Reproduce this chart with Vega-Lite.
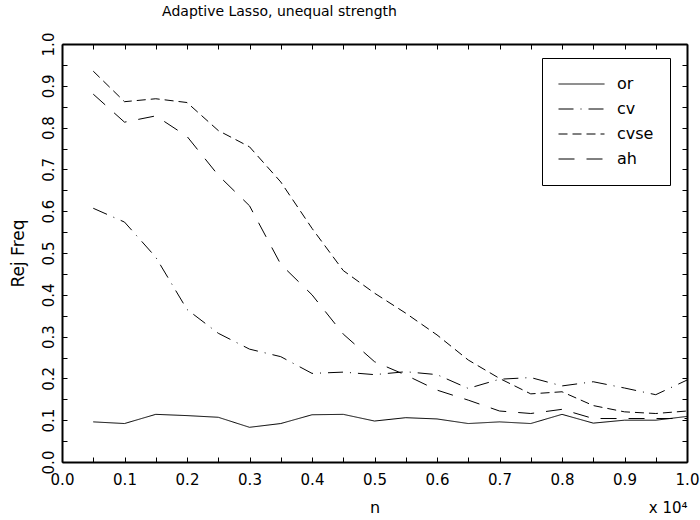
{
  "$schema": "https://vega.github.io/schema/vega-lite/v6.json",
  "width": 625,
  "height": 418,
  "autosize": {"type": "none"},
  "padding": {"left": 62, "top": 44, "right": 13, "bottom": 58},
  "background": "white",
  "title": {"text": "Adaptive Lasso, unequal strength", "fontSize": 14, "fontWeight": "normal", "font": "DejaVu Sans", "color": "black", "anchor": "middle", "frame": "group", "dx": -95, "offset": -1, "baseline": "bottom"},
  "config": {
    "view": {"stroke": null},
    "font": "DejaVu Sans",
    "legend": {
      "orient": "none", "legendX": 480, "legendY": 14,
      "strokeColor": "black", "strokeWidth": 1, "padding": 16, "fillColor": "white",
      "symbolType": "stroke", "symbolSize": 2116, "symbolStrokeWidth": 1, "symbolStrokeColor": "black",
      "clipHeight": 20,
      "labelFont": "DejaVu Sans", "labelFontSize": 16, "labelColor": "black", "labelOffset": 12, "rowPadding": 5
    }
  },
  "data": {"values": [
    {"n":0.05,"series":"or","value":0.096},{"n":0.10,"series":"or","value":0.092},{"n":0.15,"series":"or","value":0.114},{"n":0.20,"series":"or","value":0.111},{"n":0.25,"series":"or","value":0.107},{"n":0.30,"series":"or","value":0.083},{"n":0.35,"series":"or","value":0.092},{"n":0.40,"series":"or","value":0.113},{"n":0.45,"series":"or","value":0.114},{"n":0.50,"series":"or","value":0.098},{"n":0.55,"series":"or","value":0.106},{"n":0.60,"series":"or","value":0.103},{"n":0.65,"series":"or","value":0.092},{"n":0.70,"series":"or","value":0.096},{"n":0.75,"series":"or","value":0.092},{"n":0.80,"series":"or","value":0.114},{"n":0.85,"series":"or","value":0.093},{"n":0.90,"series":"or","value":0.100},{"n":0.95,"series":"or","value":0.100},{"n":1.00,"series":"or","value":0.109},
    {"n":0.05,"series":"cv","value":0.607},{"n":0.10,"series":"cv","value":0.574},{"n":0.15,"series":"cv","value":0.490},{"n":0.20,"series":"cv","value":0.365},{"n":0.25,"series":"cv","value":0.308},{"n":0.30,"series":"cv","value":0.270},{"n":0.35,"series":"cv","value":0.252},{"n":0.40,"series":"cv","value":0.212},{"n":0.45,"series":"cv","value":0.215},{"n":0.50,"series":"cv","value":0.209},{"n":0.55,"series":"cv","value":0.216},{"n":0.60,"series":"cv","value":0.209},{"n":0.65,"series":"cv","value":0.176},{"n":0.70,"series":"cv","value":0.198},{"n":0.75,"series":"cv","value":0.202},{"n":0.80,"series":"cv","value":0.182},{"n":0.85,"series":"cv","value":0.192},{"n":0.90,"series":"cv","value":0.177},{"n":0.95,"series":"cv","value":0.161},{"n":1.00,"series":"cv","value":0.196},
    {"n":0.05,"series":"cvse","value":0.935},{"n":0.10,"series":"cvse","value":0.862},{"n":0.15,"series":"cvse","value":0.869},{"n":0.20,"series":"cvse","value":0.860},{"n":0.25,"series":"cvse","value":0.793},{"n":0.30,"series":"cvse","value":0.754},{"n":0.35,"series":"cvse","value":0.670},{"n":0.40,"series":"cvse","value":0.559},{"n":0.45,"series":"cvse","value":0.458},{"n":0.50,"series":"cvse","value":0.404},{"n":0.55,"series":"cvse","value":0.356},{"n":0.60,"series":"cvse","value":0.304},{"n":0.65,"series":"cvse","value":0.244},{"n":0.70,"series":"cvse","value":0.200},{"n":0.75,"series":"cvse","value":0.163},{"n":0.80,"series":"cvse","value":0.168},{"n":0.85,"series":"cvse","value":0.135},{"n":0.90,"series":"cvse","value":0.120},{"n":0.95,"series":"cvse","value":0.116},{"n":1.00,"series":"cvse","value":0.122},
    {"n":0.05,"series":"ah","value":0.880},{"n":0.10,"series":"ah","value":0.813},{"n":0.15,"series":"ah","value":0.828},{"n":0.20,"series":"ah","value":0.779},{"n":0.25,"series":"ah","value":0.686},{"n":0.30,"series":"ah","value":0.613},{"n":0.35,"series":"ah","value":0.473},{"n":0.40,"series":"ah","value":0.400},{"n":0.45,"series":"ah","value":0.306},{"n":0.50,"series":"ah","value":0.240},{"n":0.55,"series":"ah","value":0.208},{"n":0.60,"series":"ah","value":0.172},{"n":0.65,"series":"ah","value":0.148},{"n":0.70,"series":"ah","value":0.122},{"n":0.75,"series":"ah","value":0.116},{"n":0.80,"series":"ah","value":0.126},{"n":0.85,"series":"ah","value":0.104},{"n":0.90,"series":"ah","value":0.104},{"n":0.95,"series":"ah","value":0.104},{"n":1.00,"series":"ah","value":0.104}
  ]},
  "layer": [
    {
      "mark": {"type": "line", "color": "black", "strokeWidth": 1, "clip": true},
      "encoding": {
        "x": {"field": "n", "type": "quantitative", "scale": {"domain": [0, 1], "nice": false, "zero": false},
          "axis": {"orient": "bottom", "values": [0,0.05,0.1,0.15,0.2,0.25,0.3,0.35,0.4,0.45,0.5,0.55,0.6,0.65,0.7,0.75,0.8,0.85,0.9,0.95,1.0],
            "labelExpr": "round(datum.value*20)%2==0 ? format(datum.value,'.1f') : ''",
            "labelOverlap": false, "labelFlush": false, "labelFontSize": 15, "labelColor": "black", "labelPadding": 15, "labelBaseline": "top",
            "tickSize": -5, "tickColor": "black", "tickWidth": 1, "domainColor": "black", "domainWidth": 2, "grid": false,
            "title": "n", "titleFontSize": 16, "titleFontWeight": "normal", "titleColor": "black", "titleY": 45, "titleBaseline": "middle"}},
        "y": {"field": "value", "type": "quantitative", "scale": {"domain": [0, 1], "nice": false, "zero": false},
          "axis": {"orient": "left", "values": [0,0.05,0.1,0.15,0.2,0.25,0.3,0.35,0.4,0.45,0.5,0.55,0.6,0.65,0.7,0.75,0.8,0.85,0.9,0.95,1.0],
            "labelExpr": "round(datum.value*20)%2==0 ? format(datum.value,'.1f') : ''",
            "labelOverlap": false, "labelFlush": false, "labelFontSize": 15, "labelColor": "black", "labelPadding": 11,
            "labelAngle": -90, "labelAlign": "center", "labelBaseline": "bottom",
            "tickSize": -5, "tickColor": "black", "tickWidth": 1, "domainColor": "black", "domainWidth": 2, "grid": false,
            "title": "Rej Freq", "titleFontSize": 17, "titleFontWeight": "normal", "titleColor": "black", "titleX": -44, "titleBaseline": "middle"}},
        "strokeDash": {"field": "series", "type": "nominal",
          "scale": {"domain": ["or", "cv", "cvse", "ah"], "range": [[1, 0], [15, 7, 1, 7], [9, 5], [16, 12]]},
          "legend": {"title": null}}
      }
    },
    {
      "mark": {"type": "point", "opacity": 0},
      "encoding": {
        "x": {"field": "n", "type": "quantitative", "scale": {"domain": [0, 1], "nice": false, "zero": false},
          "axis": {"orient": "top", "values": [0,0.05,0.1,0.15,0.2,0.25,0.3,0.35,0.4,0.45,0.5,0.55,0.6,0.65,0.7,0.75,0.8,0.85,0.9,0.95,1.0],
            "labels": false, "tickSize": -5, "tickColor": "black", "tickWidth": 1, "domainColor": "black", "domainWidth": 2, "grid": false, "title": null}},
        "y": {"field": "value", "type": "quantitative", "scale": {"domain": [0, 1], "nice": false, "zero": false},
          "axis": {"orient": "right", "values": [0,0.05,0.1,0.15,0.2,0.25,0.3,0.35,0.4,0.45,0.5,0.55,0.6,0.65,0.7,0.75,0.8,0.85,0.9,0.95,1.0],
            "labels": false, "tickSize": -5, "tickColor": "black", "tickWidth": 1, "domainColor": "black", "domainWidth": 2, "grid": false, "title": null}}
      }
    },
    {
      "mark": {"type": "point", "opacity": 0},
      "encoding": {
        "x": {"field": "n", "type": "quantitative", "scale": {"domain": [0, 1], "nice": false, "zero": false},
          "axis": {"orient": "bottom", "domain": false, "ticks": false, "labels": false, "grid": false,
            "title": "x 10⁴", "titleFontSize": 15, "titleFontWeight": "normal", "titleColor": "black", "titleX": 625, "titleY": 45, "titleAlign": "right", "titleBaseline": "middle"}},
        "y": {"field": "value", "type": "quantitative", "axis": null}
      }
    }
  ],
  "resolve": {"axis": {"x": "independent", "y": "independent"}}
}
